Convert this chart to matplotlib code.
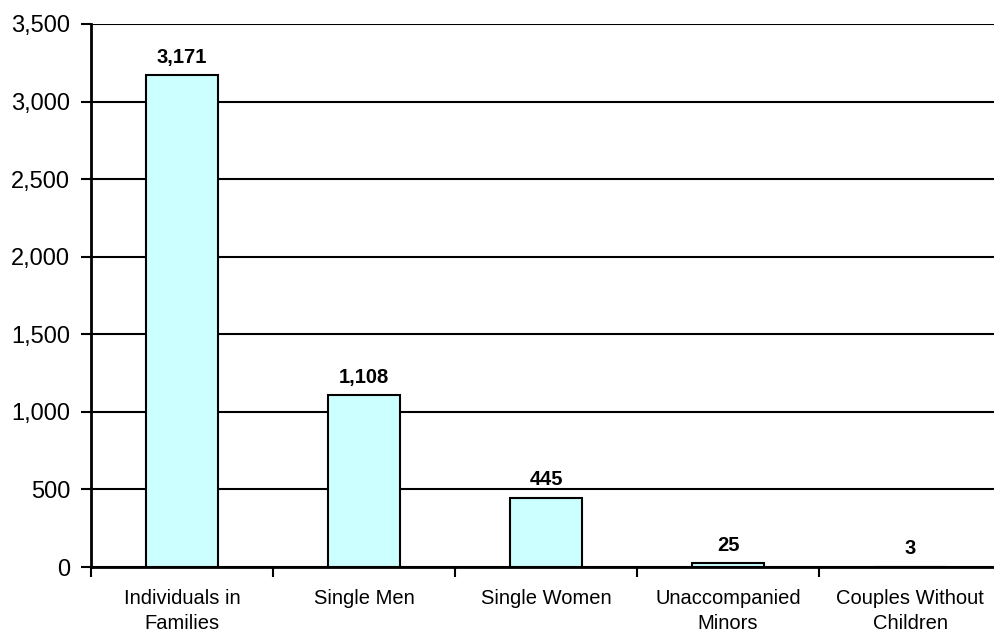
import matplotlib
matplotlib.use("Agg")
import matplotlib.pyplot as plt
import numpy as np
from matplotlib.ticker import FuncFormatter

categories = ["Individuals in\nFamilies", "Single Men", "Single Women",
              "Unaccompanied\nMinors", "Couples Without\nChildren"]
counts = [3171, 1108, 445, 25, 3]
y_ticks = [0, 500, 1000, 1500, 2000, 2500, 3000, 3500]

plt.rcParams["font.family"] = ["Liberation Sans", "DejaVu Sans"]

fig = plt.figure(figsize=(9.94, 6.33), dpi=100)
ax = fig.add_axes([91 / 994, 1 - 567 / 633, 910 / 994, (567 - 24) / 633])

x = np.arange(len(categories))
ax.bar(x, counts, width=0.4, color="#CCFFFF", edgecolor="black", linewidth=1.5, zorder=3)

for xi, v in zip(x, counts):
    ax.text(xi, v + 55, f"{v:,}", ha="center", va="bottom", fontsize=14.5,
            fontweight="bold", zorder=4)

ax.set_xlim(-0.5, len(categories) - 0.5)
ax.set_ylim(0, 3500)
ax.set_yticks(y_ticks)
ax.yaxis.set_major_formatter(FuncFormatter(lambda v, p: f"{int(v):,}"))
ax.tick_params(axis="y", labelsize=17, length=7, width=1.5, direction="out", pad=8)

ax.set_xticks(np.arange(-0.5, len(categories)), labels=[""] * (len(categories) + 1))
ax.set_xticks(x, labels=categories, minor=True)
ax.tick_params(axis="x", which="major", length=7, width=1.5, direction="out")
ax.tick_params(axis="x", which="minor", length=0, labelsize=14.5, pad=16)
for lbl in ax.get_xticklabels(minor=True):
    lbl.set_linespacing(1.4)

ax.yaxis.grid(True, color="black", linewidth=1.5, zorder=0)
ax.set_axisbelow(True)
for s in ("top", "right"):
    ax.spines[s].set_visible(False)
for s in ("left", "bottom"):
    ax.spines[s].set_linewidth(2)
    ax.spines[s].set_zorder(5)

fig.savefig("out.png", dpi=100)
